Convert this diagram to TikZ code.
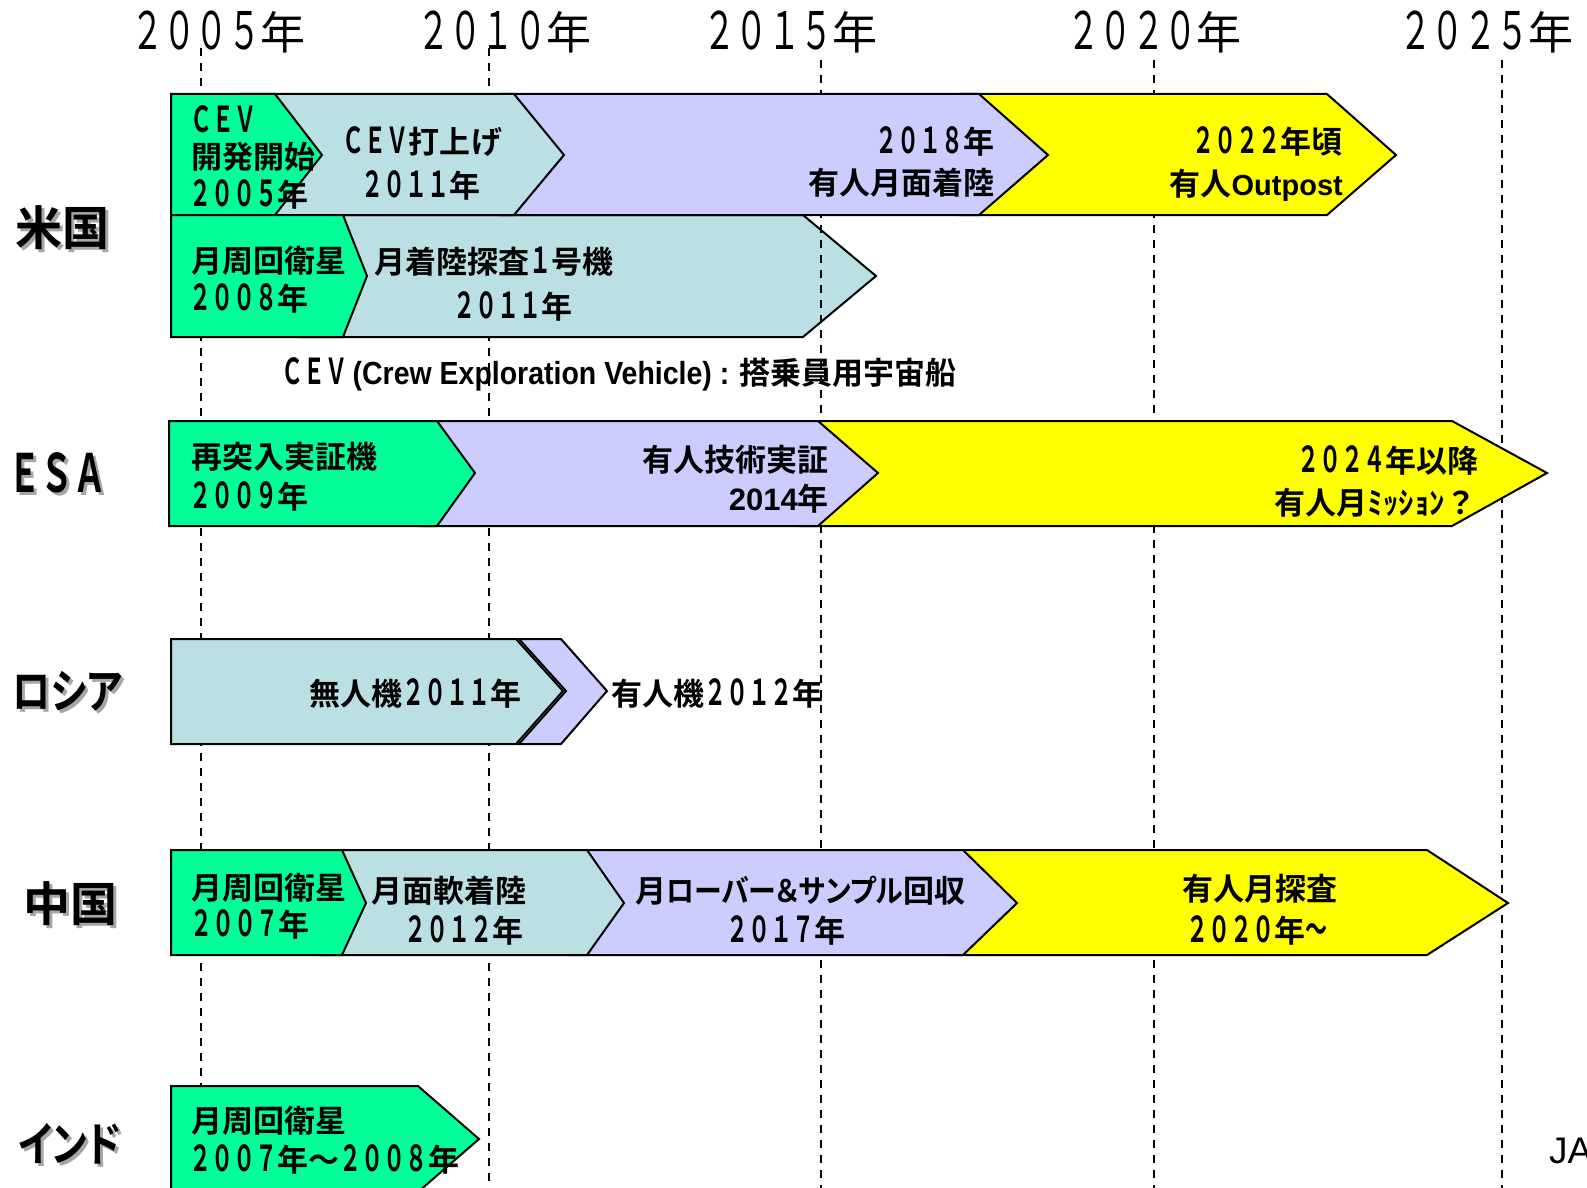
\documentclass[tikz,border=0pt]{standalone}
\usepackage{fontspec}
\setmainfont{Noto Sans CJK JP}[BoldFont={Noto Sans CJK JP Bold}, RawFeature=+palt]
\newfontfamily\cnd{Noto Sans CJK JP}[BoldFont={Noto Sans CJK JP Bold}, Scale=1.15, FakeStretch=0.62]
\newfontfamily\cndy{Noto Sans CJK JP}[Scale=1.15, FakeStretch=0.626]
\newfontfamily\kn{Noto Sans CJK JP}[BoldFont={Noto Sans CJK JP Bold}, RawFeature=+palt, FakeStretch=0.9]
\newfontfamily\tkn{Noto Sans CJK JP}[BoldFont={Noto Sans CJK JP Bold}, RawFeature=+palt, FakeStretch=0.81]
\newfontfamily\lib{Liberation Sans}
\newfontfamily\libn{Liberation Sans}[FakeStretch=0.89]
\newcommand\D[1]{{\cnd #1}}
\newcommand\Dy[1]{{\cndy #1}}
\definecolor{cGrn}{HTML}{00FF99}
\definecolor{cTeal}{HTML}{BBE0E3}
\definecolor{cLav}{HTML}{CCCCFF}
\definecolor{cYel}{HTML}{FFFF00}
\definecolor{cShd}{HTML}{A6A6A6}
\tikzset{
  bar/.style={draw=black, line width=2pt, line join=miter},
  txt/.style={inner sep=0pt, font=\fontsize{31}{31}\selectfont\bfseries},
  ttl/.style={inner sep=0pt, font=\fontsize{47}{47}\selectfont\bfseries},
  yr/.style={inner sep=0pt, font=\fontsize{45}{45}\selectfont},
  gridline/.style={line width=1.5pt, dash pattern=on 8pt off 7pt},
}
\begin{document}
\begin{tikzpicture}[x=1pt, y=-1pt]
\useasboundingbox (0,0) rectangle (1587,1188);
\clip (0,0) rectangle (1587,1188);
\fill[white] (0,0) rectangle (1587,1188);

% year labels
\node[yr, anchor=west] (y05) at (131,32) {\Dy{２００５}年};
\node[yr, anchor=west] (y10) at (417,32) {\Dy{２０１０}年};
\node[yr, anchor=west] (y15) at (703,32) {\Dy{２０１５}年};
\node[yr, anchor=west] (y20) at (1067,32) {\Dy{２０２０}年};
\node[yr, anchor=west] (y25) at (1399,32) {\Dy{２０２５}年};

% grid lines
\coordinate (g05a) at (201,48);  \coordinate (g05b) at (201,1188);
\coordinate (g10a) at (489,48);  \coordinate (g10b) at (489,1188);
\coordinate (g15a) at (821,60);  \coordinate (g15b) at (821,1188);
\coordinate (g20a) at (1154,60); \coordinate (g20b) at (1154,1188);
\coordinate (g25a) at (1502,60); \coordinate (g25b) at (1502,1188);
\draw[gridline] (g05a) -- (g05b);
\draw[gridline] (g10a) -- (g10b);
\draw[gridline] (g20a) -- (g20b);
\draw[gridline] (g25a) -- (g25b);

% ---- USA row 2 (lunar lander) lies under the 2015 line
\draw[bar, fill=cTeal] (300,215) -- (803,215) -- (876,276) -- (803,337) -- (300,337) -- cycle;
\draw[gridline] (g15a) -- (g15b);

% ---- USA row 1
\draw[bar, fill=cYel] (960,94) -- (1327,94) -- (1396,155) -- (1327,215) -- (960,215) -- cycle;
\draw[bar, fill=cLav] (500,94) -- (979,94) -- (1048,155) -- (979,215) -- (500,215) -- cycle;
\draw[bar, fill=cTeal] (240,94) -- (514,94) -- (564,155) -- (514,215) -- (240,215) -- cycle;
\draw[bar, fill=cGrn] (171,94) -- (275,94) -- (322,155) -- (275,215) -- (171,215) -- cycle;
\draw[bar, fill=cGrn] (171,215) -- (343,215) -- (367,276) -- (343,337) -- (171,337) -- cycle;
% ---- ESA
\draw[bar, fill=cYel] (800,421) -- (1452,421) -- (1547,473) -- (1452,526) -- (800,526) -- cycle;
\draw[bar, fill=cLav] (420,421) -- (818,421) -- (878,473) -- (818,526) -- (420,526) -- cycle;
\draw[bar, fill=cGrn] (169,421) -- (437,421) -- (475,473) -- (437,526) -- (169,526) -- cycle;
% ---- Russia
\draw[bar, fill=cLav] (519,639) -- (561,639) -- (607,691) -- (561,744) -- (519,744) -- (566,691) -- cycle;
\draw[bar, fill=cTeal] (171,639) -- (516,639) -- (563,691) -- (516,744) -- (171,744) -- cycle;
% ---- China
\draw[bar, fill=cYel] (950,850) -- (1427,850) -- (1508,903) -- (1427,955) -- (950,955) -- cycle;
\draw[bar, fill=cLav] (570,850) -- (963,850) -- (1017,903) -- (963,955) -- (570,955) -- cycle;
\draw[bar, fill=cTeal] (320,850) -- (587,850) -- (624,903) -- (587,955) -- (320,955) -- cycle;
\draw[bar, fill=cGrn] (171,850) -- (342,850) -- (366,903) -- (342,955) -- (171,955) -- cycle;
% ---- India
\draw[bar, fill=cGrn] (171,1086) -- (418,1086) -- (479,1139) -- (418,1192) -- (171,1192) -- cycle;

% ---- row titles
\node[ttl, anchor=west, text=cShd] (tUSs) at (18,231) {米国};
\node[ttl, anchor=west] (tUS) at (15,228) {米国};
\node[ttl, anchor=west, text=cShd] (tESs) at (11,476) {\fontsize{46}{46}\selectfont\cnd ＥＳＡ};
\node[ttl, anchor=west] (tES) at (8,473) {\fontsize{46}{46}\selectfont\cnd ＥＳＡ};
\node[ttl, anchor=west, text=cShd] (tRUs) at (15,694) {\tkn ロシア};
\node[ttl, anchor=west] (tRU) at (12,691) {\tkn ロシア};
\node[ttl, anchor=west, text=cShd] (tCNs) at (26,907) {中国};
\node[ttl, anchor=west] (tCN) at (23,904) {中国};
\node[ttl, anchor=west, text=cShd] (tINs) at (21,1147) {\tkn インド};
\node[ttl, anchor=west] (tIN) at (18,1144) {\tkn インド};

% ---- USA texts
\node[txt, anchor=west] (u1a) at (190,119) {\D{ＣＥＶ}};
\node[txt, anchor=west] (u1b) at (191,157) {開発開始};
\node[txt, anchor=west] (u1c) at (189,194) {\D{２００５}年};
\node[txt, anchor=west] (u2a) at (342,142) {\D{ＣＥＶ}打上げ};
\node[txt, anchor=west] (u2b) at (361,185) {\D{２０１１}年};
\node[txt, anchor=east] (u3a) at (995,141) {\D{２０１８}年};
\node[txt, anchor=east] (u3b) at (995,183) {有人月面着陸};
\node[txt, anchor=east] (u4a) at (1343,141) {\D{２０２２}年頃};
\node[txt, anchor=east] (u4b) at (1343,185) {有人{\lib\fontsize{29}{29}\selectfont Outpost}};
\node[txt, anchor=west] (u5a) at (191,261) {月周回衛星};
\node[txt, anchor=west] (u5b) at (189,298) {\D{２００８}年};
\node[txt, anchor=west] (u6a) at (374,262) {月着陸探査\D{１}号機};
\node[txt, anchor=west] (u6b) at (453,306) {\D{２０１１}年};

% ---- CEV note
\node[txt, anchor=west] (note) at (281,374)
  {\D{ＣＥＶ}\,{\libn\fontsize{32}{32}\selectfont(Crew Exploration Vehicle) : }搭乗員用宇宙船};

% ---- ESA texts
\node[txt, anchor=west] (e1a) at (191,457) {再突入実証機};
\node[txt, anchor=west] (e1b) at (189,496) {\D{２００９}年};
\node[txt, anchor=east] (e2a) at (829,460) {有人技術実証};
\node[txt, anchor=east] (e2b) at (829,499) {{\lib\bfseries 2014}年};
\node[txt, anchor=east] (e3a) at (1479,460) {\D{２０２４}年以降};
\node[txt, anchor=east] (e3b) at (1472,503) {有人月ﾐｯｼｮﾝ\,？};

% ---- Russia texts
\node[txt, anchor=east] (r1) at (522,693) {無人機\D{２０１１}年};
\node[txt, anchor=west] (r2) at (611,693) {有人機\D{２０１２}年};

% ---- China texts
\node[txt, anchor=west] (c1a) at (191,888) {月周回衛星};
\node[txt, anchor=west] (c1b) at (190,924) {\D{２００７}年};
\node[txt, anchor=west] (c2a) at (371,891) {月面軟着陸};
\node[txt, anchor=west] (c2b) at (404,930) {\D{２０１２}年};
\node[txt, anchor=west] (c3a) at (635,891) {月{\kn ローバー＆サンプル}回収};
\node[txt, anchor=west] (c3b) at (726,930) {\D{２０１７}年};
\node[txt] (c4a) at (1260,889) {有人月探査};
\node[txt] (c4b) at (1257,930) {\D{２０２０}年\D{～}};

% ---- India texts
\node[txt, anchor=west] (i1a) at (191,1121) {月周回衛星};
\node[txt, anchor=west] (i1b) at (189,1159) {\D{２００７}年～\D{２００８}年};

% ---- credit
\node[inner sep=0pt, anchor=west, font=\lib\fontsize{37}{37}\selectfont] (jaxa) at (1549,1151) {JAXA};
\end{tikzpicture}
\end{document}
